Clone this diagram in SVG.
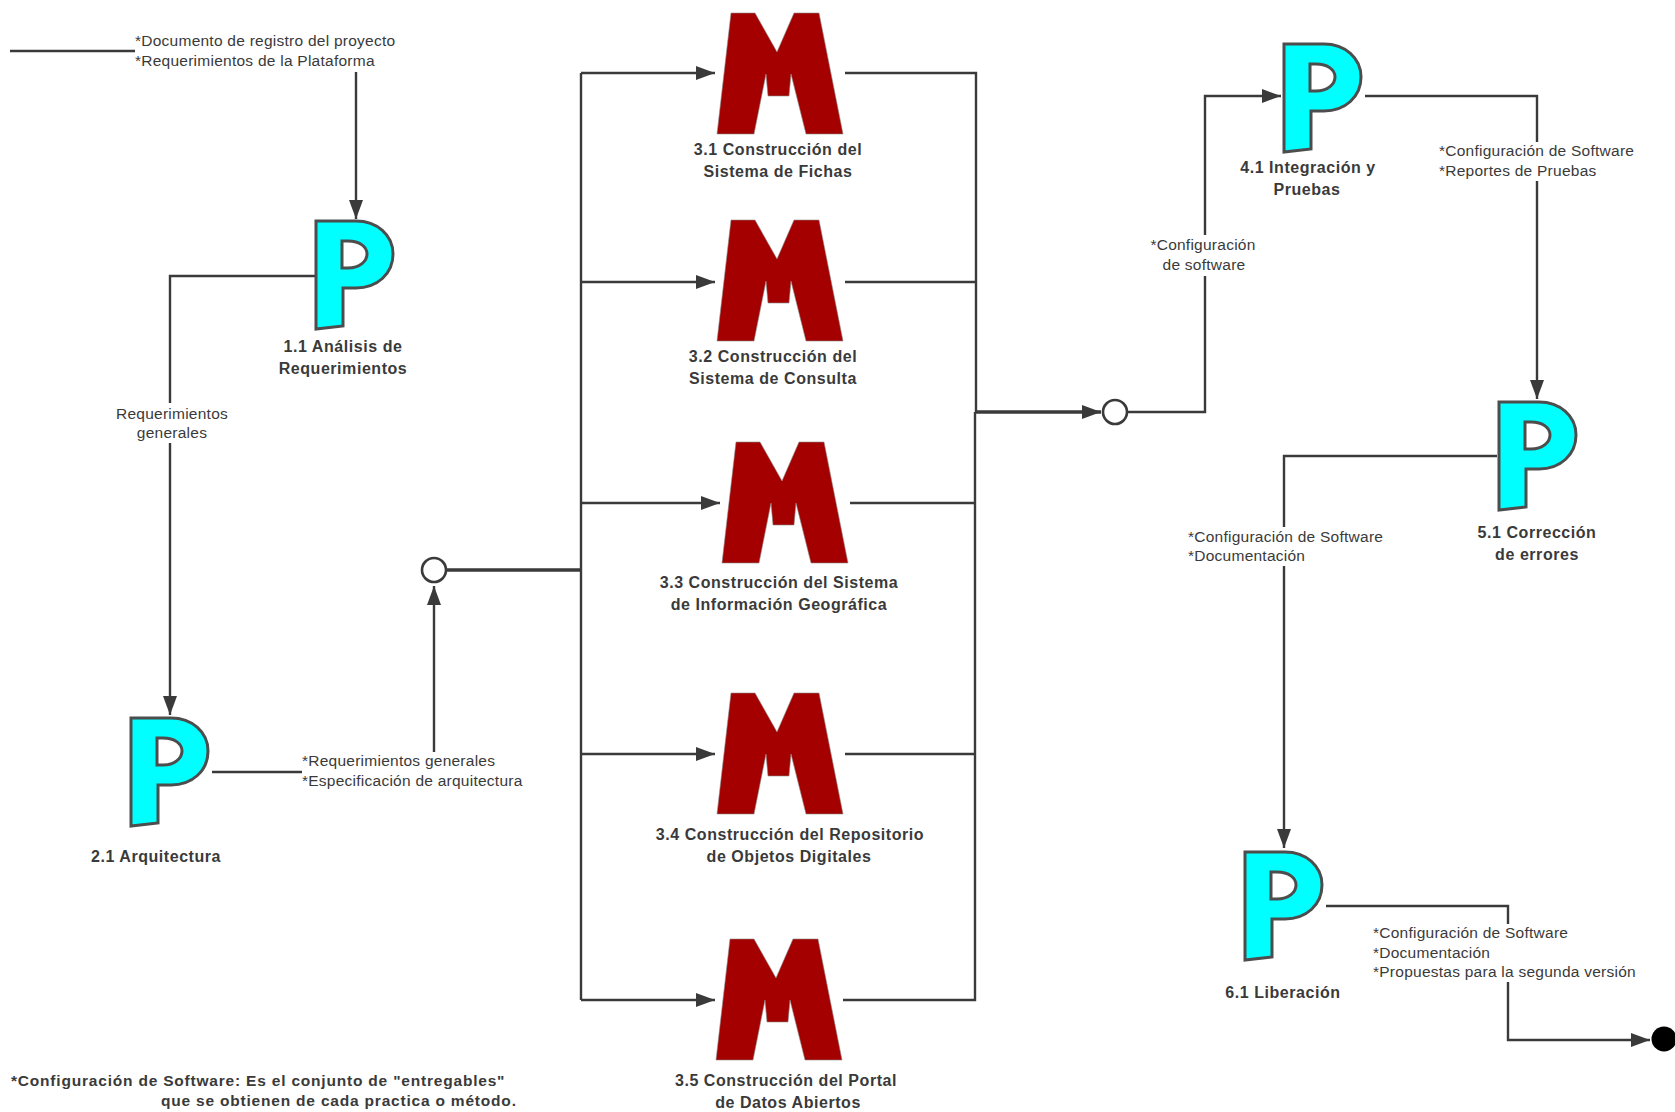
<svg xmlns="http://www.w3.org/2000/svg" xmlns:xlink="http://www.w3.org/1999/xlink" width="1675" height="1112" viewBox="0 0 1675 1112">
<style>
text{font-family:"Liberation Sans",Arial,sans-serif;fill:#3a3a3a}
.l{font-size:15.5px;letter-spacing:.25px}
.b{font-size:16px;font-weight:bold;letter-spacing:.55px;text-anchor:middle}
.n{font-size:15.5px;font-weight:bold;letter-spacing:.8px}
.c{fill:none;stroke:#3a3a3a;stroke-width:2.4}
.t{stroke-width:3.4}
.bg{fill:#fff}
.p{fill:#0ff;stroke:#4d4d4d;stroke-width:3;fill-rule:evenodd;stroke-linejoin:miter}
.m{fill:#a40000;stroke:#8a8a8a;stroke-width:.6}
.o{fill:#fff;stroke:#3a3a3a;stroke-width:2.6}
</style>
<defs>
<marker id="a" markerUnits="userSpaceOnUse" markerWidth="20" markerHeight="14" refX="19" refY="7" orient="auto"><path d="M0 0L19 7L0 14z" fill="#3a3a3a"/></marker>
<path id="P" class="p" d="M1 1H41C62 1 78 15 78 34C78 54 62 68 41 68H28V106L1 109zM27 21V48H33C45 48 52 41 52 34C52 27 45 21 33 21z"/>
<path id="M" class="m" d="M31 13H55L77 52L94 13H119L143 134H106L91 74L89 96H68L66 74L54 134H17z"/>
</defs>
<g id="connectors">
<path class="c" d="M10 51H135"/>
<path class="c" d="M356 72V219" marker-end="url(#a)"/>
<path class="c" d="M315 276H170V715" marker-end="url(#a)"/>
<path class="c" d="M212 772H304"/>
<path class="c" d="M434 752V586" marker-end="url(#a)"/>
<path class="c t" d="M447 570H581"/>
<path class="c" d="M581 1000V73"/>
<path class="c" d="M581 73H715" marker-end="url(#a)"/>
<path class="c" d="M581 282H715" marker-end="url(#a)"/>
<path class="c" d="M581 503H720" marker-end="url(#a)"/>
<path class="c" d="M581 754H715" marker-end="url(#a)"/>
<path class="c" d="M581 1000H715" marker-end="url(#a)"/>
<path class="c" d="M845 73H976V412"/>
<path class="c" d="M845 282H976"/>
<path class="c" d="M850 503H975"/>
<path class="c" d="M845 754H975"/>
<path class="c" d="M843 1000H975V412"/>
<path class="c t" d="M975 412H1101" marker-end="url(#a)"/>
<path class="c" d="M1128 412H1205V96H1281" marker-end="url(#a)"/>
<path class="c" d="M1365 96H1537V399" marker-end="url(#a)"/>
<path class="c" d="M1497 456H1284V848" marker-end="url(#a)"/>
<path class="c" d="M1326 906H1508V1040H1650" marker-end="url(#a)"/>
</g>
<g id="labels">
<rect class="bg" x="112" y="403" width="120" height="40"/>
<rect class="bg" x="302" y="752" width="226" height="40"/>
<rect class="bg" x="1146" y="235" width="114" height="41"/>
<rect class="bg" x="1436" y="142" width="202" height="39"/>
<rect class="bg" x="1186" y="527" width="200" height="39"/>
<rect class="bg" x="1371" y="924" width="272" height="58"/>
<text class="l" x="135" y="46">*Documento de registro del proyecto</text>
<text class="l" x="135" y="66">*Requerimientos de la Plataforma</text>
<text class="l" x="172" y="419" text-anchor="middle">Requerimientos</text>
<text class="l" x="172" y="438" text-anchor="middle">generales</text>
<text class="l" x="302" y="766">*Requerimientos generales</text>
<text class="l" x="302" y="786">*Especificación de arquitectura</text>
<text class="l" x="1203" y="250" text-anchor="middle">*Configuración</text>
<text class="l" x="1204" y="270" text-anchor="middle">de software</text>
<text class="l" x="1439" y="156">*Configuración de Software</text>
<text class="l" x="1439" y="176">*Reportes de Pruebas</text>
<text class="l" x="1188" y="542">*Configuración de Software</text>
<text class="l" x="1188" y="561">*Documentación</text>
<text class="l" x="1373" y="938">*Configuración de Software</text>
<text class="l" x="1373" y="958">*Documentación</text>
<text class="l" x="1373" y="977">*Propuestas para la segunda versión</text>
<text class="n" x="11" y="1086">*Configuración de Software: Es el conjunto de "entregables"</text>
<text class="n" x="161" y="1106">que se obtienen de cada practica o método.</text>
</g>
<circle id="inicio" class="o" cx="434" cy="570" r="12"/>
<circle id="union" class="o" cx="1115" cy="412" r="12"/>
<circle id="fin" cx="1664" cy="1039" r="12.5" fill="#000"/>
<g id="n11"><use xlink:href="#P" href="#P" x="315" y="220"/><text class="b" x="343" y="352">1.1 Análisis de</text><text class="b" x="343" y="374">Requerimientos</text></g>
<g id="n21"><use href="#P" x="130" y="717"/><text class="b" x="156" y="862">2.1 Arquitectura</text></g>
<g id="n31"><use href="#M" x="700" y="0"/><text class="b" x="778" y="155">3.1 Construcción del</text><text class="b" x="778" y="177">Sistema de Fichas</text></g>
<g id="n32"><use href="#M" x="700" y="207"/><text class="b" x="773" y="362">3.2 Construcción del</text><text class="b" x="773" y="384">Sistema de Consulta</text></g>
<g id="n33"><use href="#M" x="705" y="429"/><text class="b" x="779" y="588">3.3 Construcción del Sistema</text><text class="b" x="779" y="610">de Información Geográfica</text></g>
<g id="n34"><use href="#M" x="700" y="680"/><text class="b" x="790" y="840">3.4 Construcción del Repositorio</text><text class="b" x="789" y="862">de Objetos Digitales</text></g>
<g id="n35"><use href="#M" x="699" y="926"/><text class="b" x="786" y="1086">3.5 Construcción del Portal</text><text class="b" x="788" y="1108">de Datos Abiertos</text></g>
<g id="n41"><use href="#P" x="1283" y="43"/><text class="b" x="1308" y="173">4.1 Integración y</text><text class="b" x="1307" y="195">Pruebas</text></g>
<g id="n51"><use href="#P" x="1498" y="401"/><text class="b" x="1537" y="538">5.1 Corrección</text><text class="b" x="1537" y="560">de errores</text></g>
<g id="n61"><use href="#P" x="1244" y="851"/><text class="b" x="1283" y="998">6.1 Liberación</text></g>
</svg>
